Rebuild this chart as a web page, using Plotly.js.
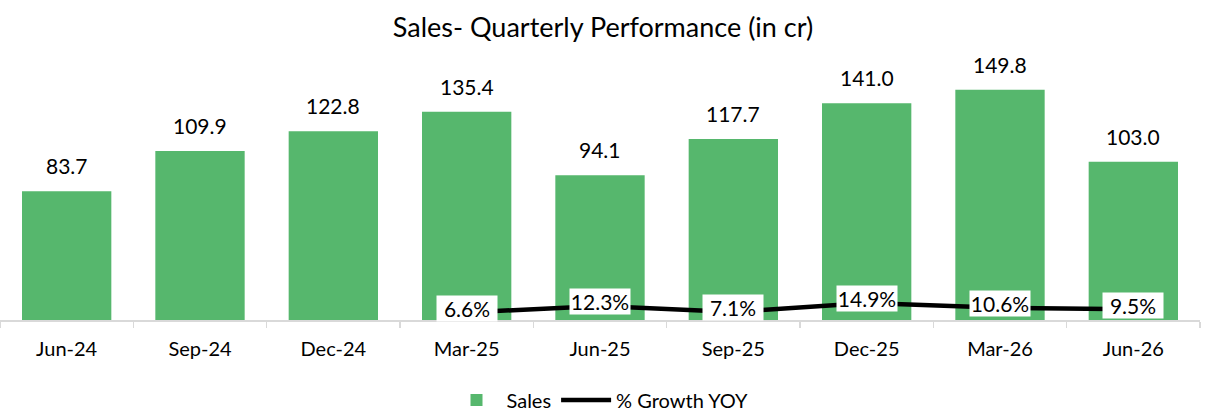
<!DOCTYPE html>
<html>
<head>
<meta charset="utf-8">
<script src="https://cdn.plot.ly/plotly-3.0.1.min.js"></script>
<style>
  html, body { margin: 0; padding: 0; background: #fff; }
  #chart { width: 1206px; height: 420px; }
</style>
</head>
<body>
<div id="chart"></div>
<script>
var quarters = ['Jun-24', 'Sep-24', 'Dec-24', 'Mar-25', 'Jun-25', 'Sep-25', 'Dec-25', 'Mar-26', 'Jun-26'];
var sales = [83.7, 109.9, 122.8, 135.4, 94.1, 117.7, 141.0, 149.8, 103.0];
var growthQuarters = ['Mar-25', 'Jun-25', 'Sep-25', 'Dec-25', 'Mar-26', 'Jun-26'];
var growth = [6.6, 12.3, 7.1, 14.9, 10.6, 9.5];

var green = '#56B76D';
var font = 'Lato, "Open Sans", sans-serif';

var traces = [
  {
    type: 'bar',
    name: 'Sales',
    x: quarters,
    y: sales,
    marker: { color: green },
    hoverinfo: 'none'
  },
  {
    type: 'scatter',
    mode: 'lines',
    name: '% Growth YOY',
    x: growthQuarters,
    y: growth,
    yaxis: 'y2',
    line: { color: '#000', width: 4.5 },
    hoverinfo: 'none'
  }
];

var notes = [];
for (var i = 0; i < quarters.length; i++) {
  notes.push({
    x: quarters[i], y: sales[i], xref: 'x', yref: 'y',
    text: sales[i].toFixed(1), showarrow: false,
    yanchor: 'bottom', yshift: 11,
    font: { family: font, size: 21, color: '#000' }
  });
}
for (var j = 0; j < growth.length; j++) {
  notes.push({
    x: growthQuarters[j], y: growth[j], xref: 'x', yref: 'y2',
    text: growth[j].toFixed(1) + '%', showarrow: false,
    yshift: 4, bgcolor: '#fff', borderpad: 0, width: 60, height: 25,
    font: { family: font, size: 21, color: '#000' }
  });
}

var layout = {
  width: 1206,
  height: 420,
  margin: { l: 0, r: 6, t: 74, b: 96 },
  paper_bgcolor: '#fff',
  plot_bgcolor: '#fff',
  font: { family: font, size: 20, color: '#000' },
  title: {
    text: 'Sales- Quarterly Performance (in cr)',
    font: { family: font, size: 27, color: '#000' },
    x: 0.5, xanchor: 'center', y: 0.935, yanchor: 'middle'
  },
  bargap: 0.33,
  showlegend: true,
  legend: {
    orientation: 'h', x: 0.5, xanchor: 'center', y: -0.325, yanchor: 'middle',
    font: { family: font, size: 20, color: '#000' },
    itemwidth: 50,
    traceorder: 'normal'
  },
  xaxis: {
    type: 'category',
    categoryorder: 'array',
    categoryarray: quarters,
    showline: true, linecolor: '#d9d9d9', linewidth: 1.5,
    ticks: 'outside', tickson: 'boundaries', ticklen: 6, tickcolor: '#d9d9d9', tickwidth: 1.5,
    ticklabelstandoff: 10,
    showgrid: false,
    tickfont: { family: font, size: 20, color: '#000' }
  },
  yaxis: {
    range: [0, 160], visible: false, showgrid: false, zeroline: false, fixedrange: true
  },
  yaxis2: {
    range: [0, 215], overlaying: 'y', side: 'right', visible: false, showgrid: false, zeroline: false
  },
  annotations: notes
};

Plotly.newPlot('chart', traces, layout, { displayModeBar: false, staticPlot: true });
</script>
</body>
</html>
